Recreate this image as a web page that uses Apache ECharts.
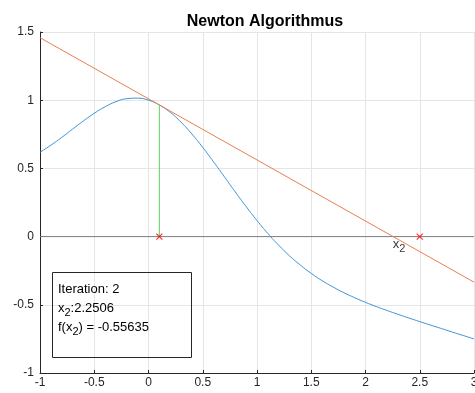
<!DOCTYPE html>
<html><head><meta charset="utf-8">
<script src="https://cdn.jsdelivr.net/npm/echarts@6/dist/echarts.min.js"></script>
<style>html,body{margin:0;padding:0;background:#fff}#c{width:475px;height:393px}</style>
</head><body><div id="c"></div>
<script>
const titleText = 'Newton Algorithmus';
const xTicks = [-1, -0.5, 0, 0.5, 1, 1.5, 2, 2.5, 3];
const yTicks = [-1, -0.5, 0, 0.5, 1, 1.5];
const curveX = [-1.0,-0.9,-0.8,-0.7,-0.6,-0.5,-0.4,-0.3,-0.2,-0.1,0.0,0.1,0.2,0.3,0.4,0.5,0.6,0.7,0.8,0.9,1.0,1.1,1.2,1.3,1.4,1.5,1.6,1.7,1.8,1.9,2.0,2.1,2.2,2.3,2.4,2.5,2.6,2.7,2.8,2.9,3.0];
const curveY = [0.618,0.670,0.727,0.788,0.848,0.904,0.952,0.989,1.011,1.015,1.000,0.965,0.911,0.839,0.752,0.654,0.548,0.438,0.327,0.220,0.118,0.023,-0.063,-0.141,-0.209,-0.270,-0.323,-0.369,-0.411,-0.448,-0.482,-0.513,-0.542,-0.570,-0.597,-0.623,-0.649,-0.674,-0.700,-0.725,-0.750];
const tangentX = [-1, 3];
const tangentY = [1.458, -0.334];
const vlineX = [0.1, 0.1];
const vlineY = [0, 0.965];
const zeroX = [-1, 3];
const zeroY = [0, 0];
const markX = [0.1, 2.5];
const markY = [0, 0];
const rootX = 2.2506;
const boxLines = ['Iteration: 2', 'x{s|2}:2.2506', 'f(x{s|2}) = -0.55635'];

const pair = (a, b) => a.map((v, i) => [v, b[i]]);
const chart = echarts.init(document.getElementById('c'), null, {renderer: 'canvas'});
const font = 'Liberation Sans, Arial, sans-serif';
chart.setOption({
  animation: false,
  backgroundColor: '#fff',
  title: {text: titleText, left: 260, top: 9, textAlign: 'center',
    textStyle: {fontFamily: font, fontSize: 16, fontWeight: 'bold', color: '#000'}},
  grid: {left: 40, right: 1, top: 32, bottom: 20, containLabel: false, outerBoundsMode: 'none'},
  xAxis: {type: 'value', min: xTicks[0], max: xTicks[xTicks.length-1], interval: 0.5,
    axisLine: {show: true, onZero: false, lineStyle: {color: '#262626', width: 1}},
    axisTick: {show: true, inside: true, length: 3, lineStyle: {color: '#262626'}},
    axisLabel: {fontFamily: font, fontSize: 12, color: '#262626', margin: 4},
    splitLine: {show: true, lineStyle: {color: '#e5e5e5', width: 1}}},
  yAxis: {type: 'value', min: yTicks[0], max: yTicks[yTicks.length-1], interval: 0.5,
    axisLine: {show: true, onZero: false, lineStyle: {color: '#262626', width: 1}},
    axisTick: {show: true, inside: true, length: 3, lineStyle: {color: '#262626'}},
    axisLabel: {fontFamily: font, fontSize: 12, color: '#262626', margin: 6},
    splitLine: {show: true, lineStyle: {color: '#e5e5e5', width: 1}}},
  series: [
    {type: 'line', data: pair(zeroX, zeroY), symbol: 'none', lineStyle: {color: '#7f7f7f', width: 1}, z: 2},
    {type: 'line', data: pair(curveX, curveY), smooth: true, symbol: 'none', lineStyle: {color: '#3d95d8', width: 1}, z: 3},
    {type: 'line', data: pair(tangentX, tangentY), symbol: 'none', lineStyle: {color: '#e8804f', width: 1}, z: 3},
    {type: 'line', data: pair(vlineX, vlineY), symbol: 'none', lineStyle: {color: '#5ad25a', width: 1}, z: 3},
    {type: 'scatter', data: pair(markX, markY), symbol: 'path://M0,0L10,10M10,0L0,10', symbolSize: 6,
      itemStyle: {color: 'rgba(0,0,0,0)', borderColor: '#ff0000', borderWidth: 1.2}, z: 6},
    {type: 'scatter', data: [[rootX, 0]], symbolSize: 0, z: 5,
      label: {show: true, position: 'insideTopLeft', offset: [-5, -8], formatter: 'x{s|2}',
        fontFamily: font, fontSize: 13, color: '#000',
        rich: {s: {fontFamily: font, fontSize: 11, color: '#000', padding: [10, 0, 0, 0]}}}}
  ],
  graphic: [
    {type: 'rect', shape: {x: 52.5, y: 272.5, width: 139, height: 85},
      style: {fill: 'none', stroke: '#262626', lineWidth: 1}, z: 10},
    {type: 'text', x: 58, y: 280, z: 11,
      style: {text: boxLines.join('\n'), fontFamily: font, fontSize: 13, fill: '#000', lineHeight: 19,
        rich: {s: {fontFamily: font, fontSize: 11, fill: '#000', padding: [8, 0, 0, 0]}}}}
  ]
});
</script></body></html>
